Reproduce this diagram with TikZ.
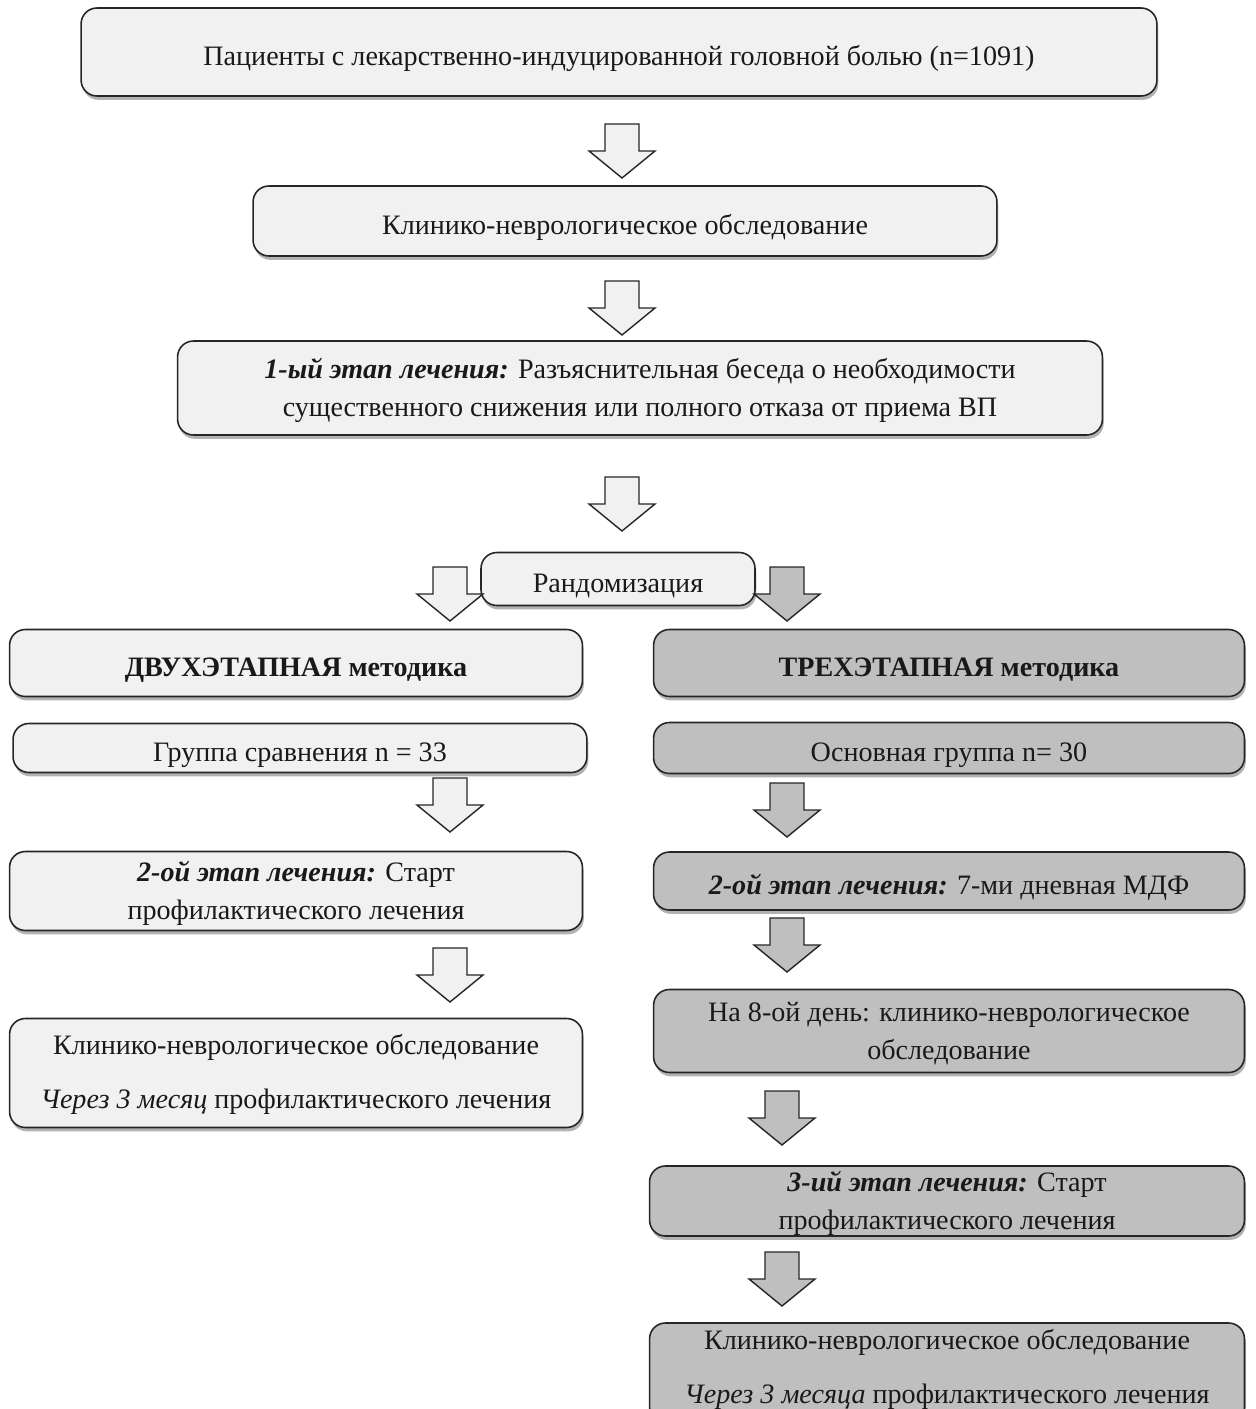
\documentclass[tikz,border=0pt]{standalone}
\usepackage{fontspec}
\setmainfont{Liberation Serif}
\usepackage{tikz}
\usetikzlibrary{shadows}
\definecolor{boxLight}{RGB}{241,241,241}
\definecolor{boxDark}{RGB}{191,191,191}
\definecolor{boxBorder}{RGB}{38,38,38}
\tikzset{
	stepBox/.style={rectangle, rounded corners=9pt, draw=boxBorder, line width=.9pt, align=center,
		text=black!90, inner sep=0pt, font=\fontsize{16}{21.6}\selectfont,
		text height=15.5pt, text depth=0pt,
		drop shadow={shadow xshift=.8pt, shadow yshift=-2.2pt, opacity=.3, fill=black}},
	twoLines/.style={text height=32.8pt},
	spacedLines/.style={text height=40.4pt},
	lightBox/.style={stepBox, fill=boxLight},
	darkBox/.style={stepBox, fill=boxDark},
	lightArrow/.style={fill=boxLight, draw=boxBorder, line width=.8pt, line join=miter},
	darkArrow/.style={fill=boxDark, draw=boxBorder, line width=.8pt, line join=miter},
	blockArrow/.pic={
		\draw[pic actions] (-17,0) -- (17,0) -- (17,27) -- (33,27) -- (0,54) -- (-33,27) -- (-17,27) -- cycle;}
}

\begin{document}
\begin{tikzpicture}[x=0.02cm, y=-0.02cm]
\useasboundingbox (0,0) rectangle (1255,1409);
% common trunk
\node [lightBox, minimum width=21.52cm, minimum height=1.76cm] (patients) at (619,52)
	{Пациенты с лекарственно-индуцированной головной болью (n=1091)};
\node [lightBox, minimum width=14.88cm, minimum height=1.40cm] (exam) at (625,221)
	{Клинико-неврологическое обследование};
\node [lightBox, twoLines, minimum width=18.50cm, minimum height=1.88cm] (stageOne) at (640,388)
	{\textbf{\textit{1-ый этап лечения:}} Разъяснительная беседа о необходимости\\
	 существенного снижения или полного отказа от приема ВП};
\node [lightBox, minimum width=5.48cm, minimum height=1.06cm] (random) at (618,579)
	{Рандомизация};
\pic [lightArrow] (arrPatients) at (622,124) {blockArrow};
\pic [lightArrow] (arrExam) at (622,281) {blockArrow};
\pic [lightArrow] (arrStageOne) at (622,477) {blockArrow};
\pic [lightArrow] (arrTwoStep) at (450,567) {blockArrow};
\pic [darkArrow] (arrThreeStep) at (787,567) {blockArrow};

% two-step branch
\node [lightBox, minimum width=11.46cm, minimum height=1.34cm] (twoStep) at (296,663)
	{\textbf{ДВУХЭТАПНАЯ методика}};
\node [lightBox, minimum width=11.48cm, minimum height=0.98cm] (compGroup) at (300,748)
	{Группа сравнения n = 33};
\node [lightBox, twoLines, minimum width=11.46cm, minimum height=1.58cm] (twoStageTwo) at (296,891)
	{\textbf{\textit{2-ой этап лечения:}} Старт\\профилактического лечения};
\node [lightBox, spacedLines, minimum width=11.46cm, minimum height=2.18cm] (twoExam) at (296,1073)
	{Клинико-неврологическое обследование\\[0.33cm]
	 \textit{Через 3 месяц} профилактического лечения};
\pic [lightArrow] (arrCompGroup) at (450,778) {blockArrow};
\pic [lightArrow] (arrTwoStageTwo) at (450,948) {blockArrow};

% three-step branch
\node [darkBox, minimum width=11.82cm, minimum height=1.34cm] (threeStep) at (949,663)
	{\textbf{ТРЕХЭТАПНАЯ методика}};
\node [darkBox, minimum width=11.82cm, minimum height=1.02cm] (mainGroup) at (949,748)
	{Основная группа n= 30};
\node [darkBox, minimum width=11.82cm, minimum height=1.16cm] (threeStageTwo) at (949,881)
	{\textbf{\textit{2-ой этап лечения:}} 7-ми дневная МДФ};
\node [darkBox, twoLines, minimum width=11.82cm, minimum height=1.66cm] (dayEight) at (949,1031)
	{На 8-ой день: клинико-неврологическое\\обследование};
\node [darkBox, twoLines, minimum width=11.90cm, minimum height=1.40cm] (threeStageThree) at (947,1201)
	{\textbf{\textit{3-ий этап лечения:}} Старт\\профилактического лечения};
\node [darkBox, text height=35pt, minimum width=11.90cm, minimum height=2.0cm] (threeExam) at (947,1373)
	{Клинико-неврологическое обследование\\[0.33cm]
	 \textit{Через 3 месяца} профилактического лечения};
\pic [darkArrow] (arrMainGroup) at (787,783) {blockArrow};
\pic [darkArrow] (arrThreeStageTwo) at (787,918) {blockArrow};
\pic [darkArrow] (arrDayEight) at (782,1091) {blockArrow};
\pic [darkArrow] (arrThreeStageThree) at (782,1252) {blockArrow};
\end{tikzpicture}
\end{document}
